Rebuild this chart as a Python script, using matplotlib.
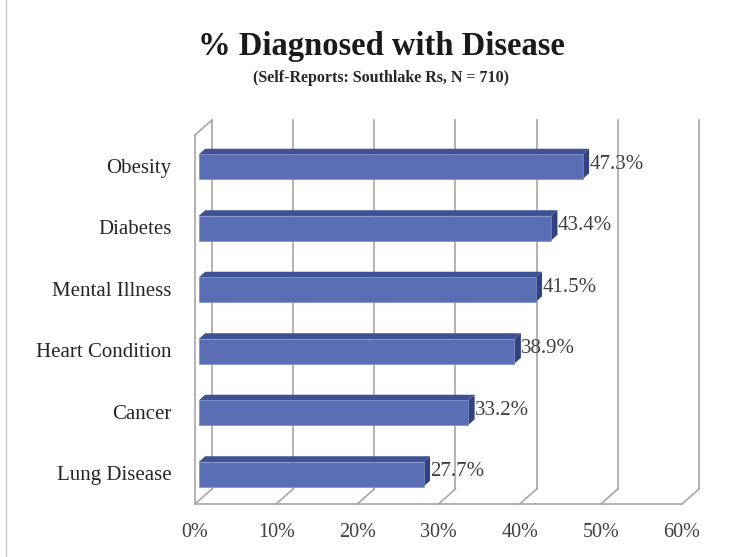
import matplotlib.pyplot as plt
from matplotlib.patches import Polygon
from matplotlib.lines import Line2D

# data
categories = ["Lung Disease", "Cancer", "Heart Condition", "Mental Illness", "Diabetes", "Obesity"]
values = [27.7, 33.2, 38.9, 41.5, 43.4, 47.3]
tick_vals = [0, 10, 20, 30, 40, 50, 60]
tick_labels = ["0%", "10%", "20%", "30%", "40%", "50%", "60%"]

plt.rcParams['font.family'] = ['Liberation Serif', 'DejaVu Serif']

fig = plt.figure(figsize=(7.38, 5.57), dpi=100)
ax = fig.add_axes([195 / 738, 53 / 557, 487 / 738, 369 / 557])
ax.set_xlim(0, 60)
ax.set_ylim(-0.5, 5.5)
for s in ax.spines.values():
    s.set_visible(False)

# depth of the fake 3d box, in data units
DX, DY = 2.09, 0.244
grid_c = "#a6a6a6"


def dep(x, y, d):
    return (x + d * DX, y + d * DY)


y0, y1 = -0.5, 5.5

# back wall gridlines and floor diagonals
for t in tick_vals:
    ax.add_line(Line2D([t + DX, t + DX], [y0 + DY, y1 + DY], color=grid_c, lw=1.2, zorder=1, clip_on=False))
    ax.add_line(Line2D([t, t + DX], [y0, y0 + DY], color=grid_c, lw=1.2, zorder=1, clip_on=False))
# floor front edge, left wall
ax.add_line(Line2D([0, 60], [y0, y0], color=grid_c, lw=1.2, zorder=5, clip_on=False))
ax.add_line(Line2D([0, 0], [y0, y1], color=grid_c, lw=1.2, zorder=5, clip_on=False))
ax.add_line(Line2D([0, DX], [y1, y1 + DY], color=grid_c, lw=1.2, zorder=5, clip_on=False))

# bars
front_c = "#5b6db5"
top_c = "#3f5094"
side_c = "#33427c"
d0, d1 = 0.22, 0.6
h = 0.4
for i, v in enumerate(values):
    c = i - 0.07
    bot, top = c - h / 2, c + h / 2
    front = [dep(0, bot, d0), dep(v, bot, d0), dep(v, top, d0), dep(0, top, d0)]
    topf = [dep(0, top, d0), dep(v, top, d0), dep(v, top, d1), dep(0, top, d1)]
    side = [dep(v, bot, d0), dep(v, bot, d1), dep(v, top, d1), dep(v, top, d0)]
    ax.add_patch(Polygon(topf, closed=True, fc=top_c, ec="none", zorder=3, clip_on=False))
    ax.add_patch(Polygon(side, closed=True, fc=side_c, ec="none", zorder=3, clip_on=False))
    ax.add_patch(Polygon(front, closed=True, fc=front_c, ec="#7d8cc8", lw=0.5, zorder=4, clip_on=False))
    lx, ly = dep(v, c, d1)
    ax.text(lx + 0.05, ly - 0.05, f"{v:.1f}%", fontsize=15, color="#404040", va="center", ha="left", zorder=6)

ax.set_xticks(tick_vals)
ax.set_xticklabels(tick_labels, fontsize=14.5, color="#404040")
ax.set_yticks(range(len(categories)))
ax.set_yticklabels(categories, fontsize=15, color="#262626")
ax.tick_params(axis='x', length=0, pad=14)
ax.tick_params(axis='y', length=0, pad=17)

fig.text(381 / 738, 1 - 55 / 557, "% Diagnosed with Disease", ha="center", va="baseline",
         fontsize=23.5, fontweight="bold", color="#1a1a1a")
fig.text(381 / 738, 1 - 82 / 557, "(Self-Reports: Southlake Rs, N = 710)", ha="center", va="baseline",
         fontsize=11.5, fontweight="bold", color="#262626")

# thin page border on the left
fig.add_artist(Line2D([6 / 738, 6 / 738], [0, 1], color="#c8c8c8", lw=1, transform=fig.transFigure))

fig.savefig("out.png", dpi=100)
